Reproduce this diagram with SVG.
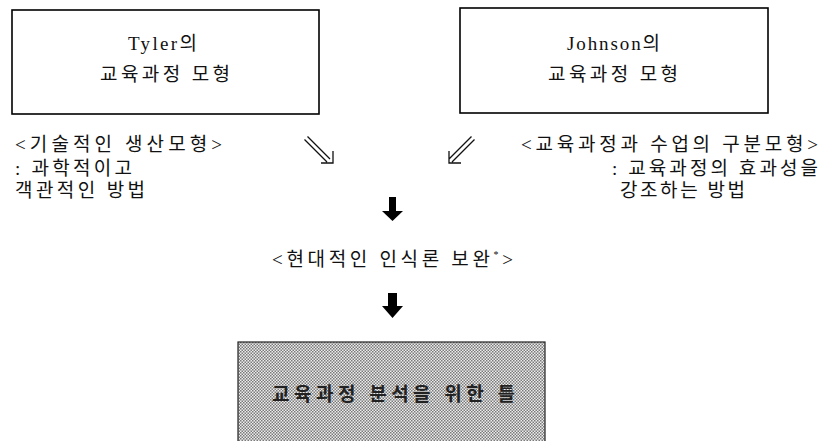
<svg xmlns="http://www.w3.org/2000/svg" width="822" height="441" viewBox="0 0 822 441">
<style>
.t{font-family:"Liberation Serif","Noto Sans CJK KR",serif;font-size:19px;fill:#111}
.box{fill:#fff;stroke:#000;stroke-width:1.6}
.da{fill:none;stroke:#111;stroke-width:1.3}
.blk{fill:#000}
</style>
<defs>
<pattern id="chk" width="3" height="3" patternUnits="userSpaceOnUse">
<rect width="3" height="3" fill="#ececec"/>
<rect width="1.5" height="1.5" fill="#7a7a7a"/>
<rect x="1.5" y="1.5" width="1.5" height="1.5" fill="#7a7a7a"/>
</pattern>
</defs>
<rect width="822" height="441" fill="#fff"/>
<g id="tyler">
<rect class="box" x="12" y="10" width="307" height="104"/>
<text class="t" x="128" y="50" textLength="69" lengthAdjust="spacing">Tyler의</text>
<text class="t" x="100" y="81" textLength="130" lengthAdjust="spacing">교육과정 모형</text>
</g>
<g id="johnson">
<rect class="box" x="460" y="8" width="308" height="105"/>
<text class="t" x="567" y="50" textLength="93" lengthAdjust="spacing">Johnson의</text>
<text class="t" x="548" y="81" textLength="130" lengthAdjust="spacing">교육과정 모형</text>
</g>
<g id="left-desc">
<text class="t" x="15" y="151" textLength="207" lengthAdjust="spacing">&lt;기술적인 생산모형&gt;</text>
<text class="t" x="15" y="175" textLength="117" lengthAdjust="spacing">: 과학적이고</text>
<text class="t" x="15" y="197" textLength="130" lengthAdjust="spacing">객관적인 방법</text>
</g>
<g id="right-desc">
<text class="t" x="521" y="151" textLength="297" lengthAdjust="spacing">&lt;교육과정과 수업의 구분모형&gt;</text>
<text class="t" x="612" y="175" textLength="206" lengthAdjust="spacing">: 교육과정의 효과성을</text>
<text class="t" x="620" y="197" textLength="125" lengthAdjust="spacing">강조하는 방법</text>
</g>
<g id="epistemology">
<text class="t" x="272" y="266" textLength="241" lengthAdjust="spacing">&lt;현대적인 인식론 보완<tspan font-size="10" dy="-8">*</tspan><tspan dy="8">&gt;</tspan></text>
</g>
<g id="framework">
<rect x="238" y="342" width="307" height="105" fill="url(#chk)" stroke="#222" stroke-width="1.2"/>
<text class="t" x="272" y="401" textLength="243" lengthAdjust="spacing" style="font-weight:bold;fill:#222">교육과정 분석을 위한 틀</text>
</g>
<g id="connectors">
<path class="da" d="M307.5,136.5 L330,159 M304.5,139.5 L327,162 M333,151 L333,163 L321,163"/>
<path class="da" d="M474.5,139.5 L452,162 M471.5,136.5 L449,159 M449,151 L449,163 L461,163"/>
<rect class="blk" x="389" y="197" width="7" height="15"/>
<polygon class="blk" points="382,211 403,211 392.5,221"/>
<rect class="blk" x="388" y="293" width="9" height="14"/>
<polygon class="blk" points="382,306 403,306 392.5,318"/>
</g>
</svg>
